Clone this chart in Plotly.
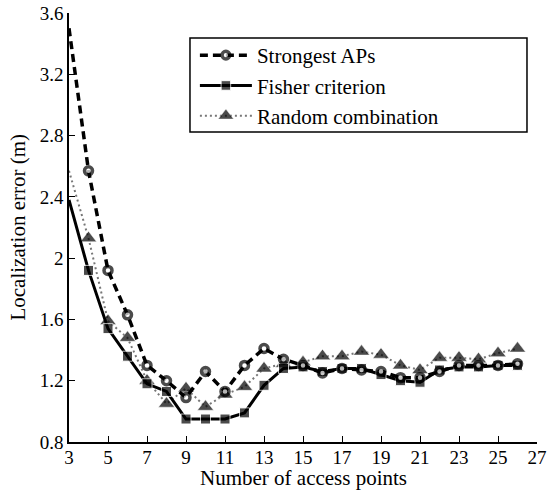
import plotly.graph_objects as go

x_vals = list(range(3, 27))
strongest = [3.50, 2.57, 1.92, 1.63, 1.30, 1.20, 1.09, 1.26, 1.13, 1.30, 1.41, 1.34, 1.30, 1.25,
             1.28, 1.27, 1.26, 1.22, 1.22, 1.26, 1.30, 1.30, 1.30, 1.31]
fisher = [2.38, 1.92, 1.54, 1.36, 1.18, 1.13, 0.95, 0.95, 0.95, 0.99, 1.17, 1.28, 1.29, 1.26,
          1.28, 1.28, 1.24, 1.20, 1.19, 1.27, 1.29, 1.29, 1.30, 1.30]
random_comb = [2.57, 2.13, 1.59, 1.48, 1.20, 1.05, 1.15, 1.03, 1.11, 1.16, 1.28, 1.31, 1.32, 1.36,
               1.36, 1.39, 1.37, 1.30, 1.27, 1.35, 1.35, 1.34, 1.38, 1.41]
names = ["Strongest APs", "Fisher criterion", "Random combination"]
x_ticks = list(range(3, 28, 2))
y_ticks = [0.8, 1.2, 1.6, 2.0, 2.4, 2.8, 3.2, 3.6]
y_tick_text = ["0.8", "1.2", "1.6", "2", "2.4", "2.8", "3.2", "3.6"]
x_title = "Number of access points"
y_title = "Localization error (m)"

font = "Liberation Serif"

def sizes(s):
    return [0] + [s] * (len(x_vals) - 1)

fig = go.Figure()
fig.add_trace(go.Scatter(
    x=x_vals, y=random_comb, name=names[2], mode="lines+markers",
    line=dict(color="#777777", width=2, dash="2px,3px"),
    marker=dict(symbol="triangle-up", size=sizes(14), color="black",
                line=dict(color="white", width=0.5)),
))
fig.add_trace(go.Scatter(
    x=x_vals, y=fisher, name=names[1], mode="lines+markers",
    line=dict(color="black", width=3),
    marker=dict(symbol="square", size=sizes(10), color="black"),
))
fig.add_trace(go.Scatter(
    x=x_vals, y=strongest, name=names[0], mode="lines+markers",
    line=dict(color="black", width=3.5, dash="8px,5px"),
    marker=dict(symbol="circle", size=sizes(8), color="white",
                line=dict(color="black", width=3.5)),
))

fig.add_shape(type="rect", xref="paper", yref="paper",
              x0=0.2585, x1=0.9786, y0=0.7226, y1=0.9417,
              line=dict(color="black", width=1.5), fillcolor="white", layer="above")

fig.add_annotation(text=x_title, xref="paper", yref="paper", x=0.5, y=-0.084,
                   xanchor="center", yanchor="middle", showarrow=False,
                   font=dict(family=font, size=21, color="black"))
fig.add_annotation(text=y_title, xref="paper", yref="paper", x=-0.111, y=0.5,
                   xanchor="center", yanchor="middle", showarrow=False, textangle=-90,
                   font=dict(family=font, size=21, color="black"))

fig.update_layout(
    width=556, height=490,
    margin=dict(l=69, r=19, t=13, b=48, autoexpand=False),
    paper_bgcolor="white", plot_bgcolor="white",
    font=dict(family=font, size=19, color="black"),
    showlegend=True,
    legend=dict(
        x=0.269, y=0.9487, xanchor="left", yanchor="top",
        bgcolor="rgba(0,0,0,0)", borderwidth=0,
        traceorder="reversed", itemwidth=52,
        font=dict(family=font, size=21, color="black"),
        tracegroupgap=0,
    ),
    xaxis=dict(
        range=[3, 27], tickmode="array", tickvals=x_ticks, automargin=False,
        showline=True, linecolor="black", linewidth=1.5,
        ticks="inside", ticklen=6, tickcolor="black", showgrid=False, zeroline=False,
        tickfont=dict(family=font, size=19), ticklabelstandoff=-3,
    ),
    yaxis=dict(
        range=[0.8, 3.6], tickmode="array", tickvals=y_ticks, ticktext=y_tick_text,
        automargin=False,
        showline=True, linecolor="black", linewidth=1.5,
        ticks="inside", ticklen=6, tickcolor="black", showgrid=False, zeroline=False,
        tickfont=dict(family=font, size=19),
    ),
)

fig.write_html("out.html", config={"displayModeBar": False},
               post_script="document.body.style.margin='0';document.body.style.padding='0';")
